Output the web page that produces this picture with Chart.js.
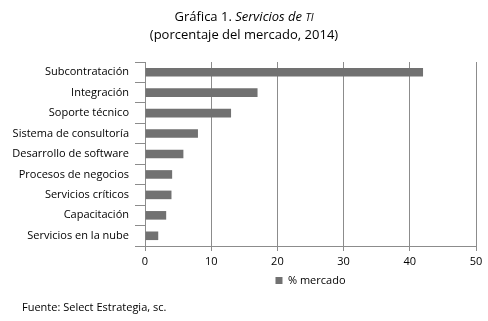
<!DOCTYPE html>
<html>
<head>
<meta charset="utf-8">
<script src="https://cdn.jsdelivr.net/npm/chart.js@4/dist/chart.umd.min.js"></script>
<style>
  html, body { margin: 0; padding: 0; background: #fff; }
  #wrap { position: relative; width: 488px; height: 321px; font-family: 'Open Sans', sans-serif; color: #000; }
  #title { position: absolute; left: 0; top: 8px; width: 488px; text-align: center; font-size: 13px; line-height: 17px; }
  #source { position: absolute; left: 22px; top: 299px; font-size: 11px; }
  canvas { position: absolute; left: 0; top: 0; }
</style>
</head>
<body>
<div id="wrap">
  <canvas id="chart" width="488" height="300"></canvas>
  <div id="title">Gráfica 1. <i>Servicios de <span style="font-size:0.8em">TI</span></i><br>(porcentaje del mercado, 2014)</div>
  <div id="source">Fuente: Select Estrategia, sc.</div>
</div>
<script>
const categories = ['Subcontratación', 'Integración', 'Soporte técnico', 'Sistema de consultoría', 'Desarrollo de software', 'Procesos de negocios', 'Servicios críticos', 'Capacitación', 'Servicios en la nube'];
const marketShare = [42, 17, 13, 8, 5.8, 4.1, 4, 3.2, 2];
const seriesName = '% mercado';

const axisGrey = '#8c8c8c';
const font = { family: "'Open Sans', sans-serif", size: 11 };

new Chart(document.getElementById('chart'), {
    type: 'bar',
    data: {
        labels: categories,
        datasets: [{ label: seriesName, data: marketShare, backgroundColor: '#717171', barPercentage: 0.42, categoryPercentage: 1 }]
    },
    options: {
        indexAxis: 'y',
        responsive: false,
        animation: false,
        layout: { padding: { top: 62, right: 12, left: 0, bottom: 4 } },
        scales: {
            x: {
                min: 0, max: 50,
                ticks: { stepSize: 10, color: '#000', font, padding: 4 },
                grid: { color: axisGrey, tickLength: 5 },
                border: { color: axisGrey },
                afterFit: scale => { scale.height = 23; }
            },
            y: {
                ticks: { color: '#000', font, padding: 6 },
                grid: { offset: true, drawOnChartArea: false, color: axisGrey, tickLength: 10 },
                border: { color: axisGrey },
                afterFit: scale => { scale.width = 145; }
            }
        },
        plugins: {
            legend: {
                position: 'bottom',
                fullSize: false,
                labels: { color: '#000', font, boxWidth: 7, boxHeight: 7, padding: 6 }
            },
            tooltip: { enabled: false }
        }
    }
});
</script>
</body>
</html>
